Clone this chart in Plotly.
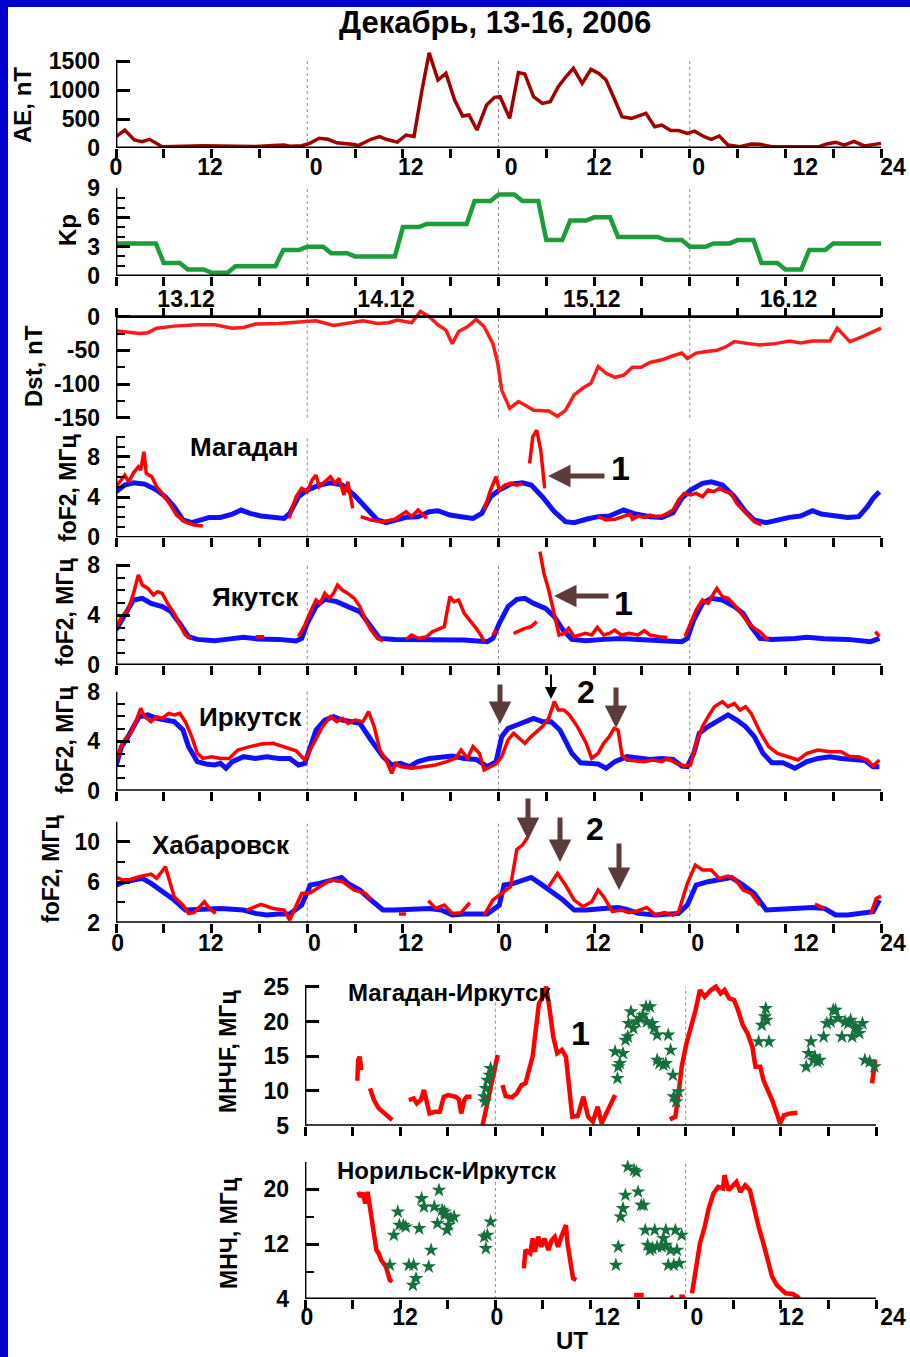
import plotly.graph_objects as go

# ------------------------------------------------------------------ data
# top panels: hours from 13.12 00 UT (0..96); bottom panels: hours (0..72)
ae_h = [0.0,1.1,2.3,3.3,4.2,5.8,10.9,14.6,17.5,19.7,21.1,21.8,23.3,24.3,25.5,26.6,27.7,29.9,30.4,32.0,33.1,33.9,35.3,36.4,37.4,38.4,39.3,40.4,41.4,42.5,43.5,44.3,45.3,46.5,47.5,48.2,49.4,50.5,51.3,52.4,53.5,54.5,55.5,56.4,57.4,58.5,59.6,60.6,61.5,62.6,63.5,64.7,65.5,66.5,67.6,68.5,69.6,70.6,71.7,72.6,73.8,74.7,75.7,76.8,78.3,79.7,80.8,82.3,88.1,89.2,90.3,91.4,92.6,93.9,96.0]
ae_v = [195,310,138,110,150,23,40,30,25,45,50,30,40,80,167,150,90,60,40,150,195,150,100,224,200,1000,1640,1172,1287,828,552,570,310,741,874,885,512,1299,1276,885,770,800,1057,1220,1374,1115,1356,1287,1172,828,540,510,552,598,367,395,300,300,253,290,195,150,207,52,23,70,65,23,20,70,100,50,115,35,80]

# Kp, one value per 3-hour interval
kp_values = [3.33,3.33,1.33,0.67,0.33,1.0,1.0,2.67,3.0,2.33,2.0,2.0,5.0,5.33,5.33,7.67,8.33,7.67,3.67,5.67,6.0,4.0,4.0,3.67,3.0,3.33,3.67,1.33,0.67,2.67,3.33,3.33]

dst_h = [0.0,1.1,2.9,4.0,5.1,7.3,10.2,12.4,14.6,16.0,17.5,20.4,23.3,25.1,27.3,29.1,31.0,32.8,34.2,35.3,37.1,38.2,39.3,40.4,41.4,42.2,43.0,44.1,45.2,46.2,47.3,47.9,48.4,49.4,50.5,51.3,52.4,54.3,55.4,56.4,57.5,58.6,59.6,60.5,61.5,62.6,63.7,64.8,65.9,67.0,68.5,69.9,71.0,71.7,72.8,73.9,75.4,76.5,77.6,79.4,80.8,82.7,84.5,85.9,87.4,89.6,90.5,92.1,93.6,96.0]
dst_v = [-21,-23,-25,-24,-17,-14,-12,-12,-17,-16,-11,-10,-7,-6,-13,-10,-6,-10,-9,-5,-9,8,0,-12,-20,-40,-22,-15,-4,-15,-40,-69,-109,-136,-126,-131,-139,-140,-148,-139,-116,-106,-99,-74,-84,-90,-87,-75,-75,-68,-64,-58,-54,-62,-54,-52,-50,-45,-37,-40,-42,-40,-36,-39,-36,-36,-17,-37,-30,-17]

# Magadan foF2
mag_blue_h = [0.0,1.1,2.2,3.6,5.1,6.2,7.3,8.4,9.5,10.6,11.7,13.1,14.6,15.7,16.8,18.2,19.7,21.1,21.8,22.9,24.0,25.5,26.9,28.4,29.9,31.3,32.8,33.9,35.0,36.4,37.9,39.3,40.4,41.9,43.3,44.8,45.9,47.0,48.1,49.5,51.0,52.1,53.5,55.0,56.4,57.5,59.0,60.5,61.9,63.7,65.2,67.0,68.5,69.9,71.0,72.1,73.6,74.7,76.1,77.6,79.0,80.1,81.6,83.0,84.5,85.9,87.4,88.5,90.3,91.8,93.2,94.3,95.0,95.8]
mag_blue_f = [4.53,5.19,5.42,5.29,4.69,4.03,3.04,1.72,1.45,1.72,1.98,1.98,2.31,2.71,2.38,2.12,2.05,1.88,2.38,4.03,4.69,5.19,5.42,5.19,4.2,3.04,1.72,1.45,1.72,1.98,2.05,2.55,2.64,2.21,2.05,1.88,2.38,4.03,4.69,5.29,5.42,5.19,4.03,2.55,1.55,1.45,1.79,2.05,2.12,2.71,2.31,2.05,1.98,2.45,3.87,4.69,5.36,5.52,5.19,4.03,2.55,1.72,1.45,1.72,1.98,2.12,2.64,2.31,2.12,1.98,2.05,3.04,3.87,4.53]
mag_red_h = [0.0,0.36,1.1,1.6,2.2,2.8,3.1,3.5,3.8,4.5,5.1,5.8,6.7,7.6,8.6,9.8,10.9, None, 21.7,22.6,23.3,24.0,24.6,25.1,25.5,26.2,26.9,27.5,28.0,28.6,29.1,29.7, None, 30.7,32.0,33.5,35.0,36.4,37.1,37.9,39.0, None, 46.2,47.0,47.7,48.1,48.8,49.5,50.3,51.0, None, 51.9,52.3,52.8,53.3,53.8, None, 60.5,61.5,62.6,63.7,64.5,64.8,65.5,66.3,67.0,67.7,68.5,69.2,69.9,70.6,71.3,72.1,72.8,73.6,74.3,75.0,75.7,76.5,77.2,77.9,78.7,79.4,80.1,81.0]
mag_red_f = [5.02,5.36,6.18,5.52,6.41,7.01,6.68,8.5,6.35,6.02,5.02,4.36,3.37,2.21,1.55,1.22,1.12, None, 1.88,4.03,4.86,4.53,5.69,6.18,5.02,5.52,6.02,5.36,5.85,4.2,5.52,2.88, None, 2.05,1.72,1.55,1.79,2.55,2.05,2.71,1.88, None, 2.71,4.69,6.02,4.69,5.19,5.36,5.19,5.36, None, 7.34,9.98,10.64,8.66,4.86, None, 2.05,1.72,1.79,2.05,2.31,1.79,2.12,1.98,2.21,2.05,2.12,2.38,2.71,3.7,4.36,4.2,4.36,4.03,4.69,4.53,4.86,4.53,4.36,3.37,2.71,2.05,1.55,1.22]

# Yakutsk foF2
yak_blue_h = [0.0,0.7,1.5,2.2,3.3,4.4,5.8,6.9,8.0,9.1,10.2,12.4,13.8,16.0,17.8,20.4,22.6,23.3,24.0,25.1,26.2,27.7,29.1,30.6,32.0,33.1,35.0,37.9,40.8,43.7,46.6,47.3,48.1,49.2,50.3,51.3,52.4,53.9,55.0,56.1,57.2,59.0,61.2,63.4,65.5,68.5,71.0,71.7,72.5,73.6,74.7,76.1,77.6,78.7,79.7,80.8,82.3,85.2,86.7,88.9,91.8,94.7,95.8]
yak_blue_f = [2.8,3.6,4.4,5.2,5.33,4.93,4.67,4.27,3.33,2.27,2.05,1.95,2.05,2.21,2.08,2.05,1.92,2.13,3.33,4.67,5.25,5.07,4.67,4.27,3.07,2.13,2.05,2.05,2.05,2.0,1.87,2.13,3.33,4.67,5.25,5.33,4.93,4.53,3.87,2.8,2.05,1.95,2.05,2.13,2.05,2.0,1.87,2.13,3.6,4.93,5.33,5.2,4.67,4.13,3.07,2.13,2.05,2.13,2.21,2.11,2.05,1.87,2.13]
yak_red_h = [0.0,0.7,1.5,2.2,2.8,3.3,4.0,4.7,5.2,5.8,6.6,7.3,8.0,8.7,9.5, None, 17.5,18.6, None, 22.9,23.7,24.4,25.1,25.6,26.2,26.8,27.3,27.8,28.4,29.1,29.9,30.6,31.3,32.0,32.8,33.5, None, 36.4,37.1,37.9,39.0,39.7,40.4,41.2,41.5,41.9,42.4,43.0,43.7,44.4,45.2,45.9,46.2, None, 47.3,47.7, None, 49.9,50.6,51.3,52.1,52.8, None, 53.2,53.7,54.3,55.0,55.6,56.2,56.8,57.5,58.2,58.9,59.7,60.4,61.2,61.9,62.6,63.4,64.4,65.5,66.3,67.0,68.1,69.2, None, 71.4,72.1,72.8,73.6,74.3,74.9,75.4,76.1,76.8,77.6,78.3,79.4,80.1,80.8,81.6,81.9, None, 95.3,95.8]
yak_red_f = [2.93,3.87,4.4,5.73,7.2,6.4,6.13,5.6,5.87,5.73,4.8,4.13,3.2,2.4,2.08, None, 2.27,2.27, None, 2.27,3.2,4.27,5.2,4.93,5.73,5.33,5.73,6.4,6.0,5.73,5.33,4.67,3.6,2.8,2.13,1.92, None, 2.05,2.4,2.13,2.27,2.67,2.85,3.07,4.13,5.47,5.07,5.2,4.13,3.6,2.93,2.27,1.87, None, 2.4,2.8, None, 2.53,2.75,2.93,3.07,3.47, None, 9.07,7.33,6.0,4.13,2.4,2.53,2.93,2.27,2.4,2.53,2.4,3.01,2.4,2.53,2.8,2.4,2.53,2.4,2.75,2.4,2.27,2.21, None, 2.27,3.33,4.4,5.2,4.93,5.6,6.13,5.47,5.33,4.8,4.27,3.33,2.93,2.67,2.13,2.0, None, 2.67,2.27]

# Irkutsk foF2
irk_blue_h = [0.0,0.7,1.5,2.2,2.9,4.0,5.1,6.2,7.3,8.4,9.1,10.2,11.3,12.4,13.1,13.8,14.6,16.0,17.5,18.9,20.4,21.8,22.9,23.7,24.4,25.1,26.2,27.3,28.4,29.5,30.6,32.0,33.5,34.6,35.7,36.8,37.9,39.3,40.8,42.2,43.7,45.2,46.6,47.7,48.4,49.2,50.3,51.3,52.4,53.5,54.6,55.7,57.2,58.3,59.4,60.5,61.5,62.6,64.1,65.5,67.0,68.5,69.9,71.0,71.7,72.5,73.2,74.3,75.7,76.8,77.9,79.0,80.1,81.2,82.3,83.7,85.2,86.7,88.1,89.6,91.0,92.5,94.0,95.0,95.8]
irk_blue_f = [1.99,3.56,4.37,5.18,5.98,6.12,5.85,5.71,5.58,4.91,3.56,2.35,2.16,2.08,2.21,1.81,2.35,2.75,2.61,2.75,2.61,2.61,2.08,2.21,3.56,4.91,5.71,5.98,5.71,5.58,5.44,4.1,2.75,2.08,2.21,1.94,2.35,2.61,2.75,2.8,2.61,2.53,1.94,2.35,4.37,5.04,5.31,5.58,5.85,5.58,5.58,4.91,3.02,2.26,2.16,2.16,1.81,2.35,2.75,2.61,2.53,2.61,2.53,1.99,1.94,3.02,4.64,5.18,5.71,6.12,5.71,5.18,4.37,3.02,2.26,2.26,1.81,2.35,2.61,2.75,2.61,2.48,2.43,1.94,1.94]
irk_red_h = [0.0,0.9,1.8,2.5,3.1,3.6,4.4,5.1,5.8,6.6,7.3,8.0,8.7,9.5,10.2,10.9,12.0,13.1,14.2,15.3,16.8,18.2,19.7,21.1,22.6,23.7,24.8,25.9,26.9,27.7,28.4,29.1,30.0,31.0,31.7,32.4,33.1,33.9,34.6,35.1,35.7,37.1,38.6,40.1,41.5,42.6,43.3,44.1,44.8,45.6,46.2,47.0,47.7,48.4,49.2,49.9,50.6,51.3,52.1,52.8,53.5,54.3,55.0,55.5,56.2,56.9,57.9,59.0,59.7,60.5,61.2,61.9,62.5,63.0,63.5,64.1,65.2,66.3,67.4,68.5,69.2,70.3,71.4,72.1,72.8,73.6,74.3,75.1,76.1,76.8,77.6,78.3,79.0,79.7,80.8,81.9,83.0,84.5,85.6,86.7,88.1,89.6,91.0,92.1,93.2,94.3,95.0,95.8]
irk_red_f = [2.48,3.96,4.64,5.58,6.66,5.98,5.58,5.98,5.85,6.25,6.12,6.25,5.58,4.37,3.02,2.61,2.75,2.61,2.61,3.29,3.56,3.77,3.83,3.56,3.23,2.48,3.83,5.18,5.98,5.58,5.85,5.44,5.71,5.58,6.39,5.18,3.29,2.48,1.4,2.21,1.94,1.81,1.94,2.08,2.35,2.61,3.29,2.61,3.56,3.02,1.67,1.94,2.16,2.75,4.1,4.64,4.23,3.83,4.37,4.77,5.18,5.85,7.2,6.52,6.52,6.12,5.18,3.83,2.61,3.02,3.83,4.37,5.04,4.91,2.88,2.48,2.43,2.35,2.48,2.35,2.61,2.21,1.99,2.08,3.83,5.18,5.98,6.79,7.2,6.79,7.06,6.52,6.79,6.25,4.77,3.56,3.02,2.75,2.48,3.02,3.29,3.15,3.15,2.75,2.75,2.48,1.99,2.48]

# Khabarovsk foF2
khab_blue_h = [0.0,1.1,2.2,3.3,4.4,5.8,7.3,8.7,10.2,11.7,13.1,14.6,16.0,17.5,18.9,20.4,21.8,23.3,24.4,25.5,26.9,28.3,29.1,30.6,32.0,33.5,35.0,36.4,37.9,39.3,40.8,42.2,43.7,45.2,46.6,48.1,48.7,49.9,51.0,52.1,53.2,54.6,56.1,57.5,59.0,61.2,63.0,64.1,65.5,67.7,69.2,70.6,71.7,72.8,74.3,75.7,77.2,78.7,80.1,81.6,83.0,84.5,87.4,88.9,90.3,91.8,94.0,95.0,95.8]
khab_blue_f = [5.72,6.05,6.21,6.38,5.88,5.06,4.24,3.25,3.32,3.35,3.41,3.32,3.25,2.92,2.76,2.86,2.86,3.74,5.72,5.88,6.21,6.47,5.88,5.22,4.24,3.25,3.25,3.32,3.41,3.41,3.25,2.76,2.86,2.86,2.86,3.74,5.72,5.88,6.21,6.47,5.88,5.06,4.24,3.25,3.25,3.41,3.51,3.32,2.92,2.76,2.86,2.92,3.74,5.72,6.05,6.28,6.47,5.72,4.89,3.25,3.32,3.35,3.51,3.41,2.76,2.76,2.92,3.09,4.24]
khab_red_h = [0.0,0.9,1.8,2.9,4.4,5.1,6.2,7.3,8.4,9.1,9.8,11.1,11.7,12.5, None, 16.4,18.2,19.7,21.1,21.8,22.6,23.3,24.4,25.5,26.9,28.4,29.9,31.3,32.0, None, 35.5,36.4, None, 39.2,40.1,41.2,42.2,43.3,44.4, None, 46.2,47.3,48.4,49.5,50.3,51.0,51.7, None, 54.3,55.4,56.4,57.5,58.6,59.7,60.5,61.2,62.3,63.4,64.4,65.5,66.6,67.7,68.8,69.9,70.6,71.7,72.7,73.6,74.7,75.7,76.8,77.6,78.7,79.7,80.8, None, 87.7,88.9, None, 94.7,95.4,96.0]
khab_red_f = [6.47,6.21,6.28,6.54,6.8,6.38,7.53,4.57,3.74,2.92,2.99,4.07,3.41,2.92, None, 3.25,3.81,3.41,3.25,2.26,3.58,4.89,4.96,5.55,6.21,6.05,5.22,4.89,4.24, None, 2.86,2.86, None, 4.17,3.41,3.74,2.92,2.99,3.97, None, 2.76,4.24,4.89,5.55,9.24,9.66,10.49, None, 5.55,6.87,5.72,4.24,3.58,4.07,5.22,4.57,3.09,3.25,2.99,3.18,3.51,2.76,2.99,2.76,3.09,5.88,7.69,7.2,7.2,6.38,6.61,6.38,5.22,4.89,3.74, None, 3.84,3.41, None, 2.86,4.4,4.63]

# MUF Magadan-Irkutsk (observed = red line, forecast = stars)
muf1_red_h = [6.6,6.7,6.9,7.1, None, 8.2,8.7,9.3,9.9,10.4,11.0, None, 13.1,13.7,14.1,14.6,15.0,15.4,15.7,16.4,17.0,17.5,18.1,19.0,19.4,19.7,20.1,20.4,21.0, None, 22.4,22.8,23.3,23.8,24.3, None, 24.9,25.3,26.1,26.7,27.3,27.8,28.7,29.1,29.5,30.0,30.4,30.8,31.3,31.8,32.4,32.9,33.3,33.7,34.4,35.1,35.7,36.3,36.9,37.4,38.0,38.7,39.1, None, 46.0,46.7,47.1,47.5,48.1,48.7,49.2,49.8,50.4,51.2,51.8,52.4,52.9,53.5,54.1,54.6,55.2,55.8,56.4,56.8,57.4,57.8,58.4,58.9,59.5,59.9,60.4,61.2,62.1, None, 71.5,71.8,71.9]
muf1_red_v = [11.47,14.45,14.93,13.01, None, 10.37,8.69,7.49,6.87,6.29,5.82, None, 8.69,8.93,8.21,8.69,10.13,8.45,6.77,7.01,7.01,9.17,9.41,9.17,8.79,6.77,8.69,9.17,9.17, None, 5.1,7.25,10.13,13.01,15.17, None, 10.85,9.27,9.08,9.65,10.85,11.09,14.93,19.24,22.6,23.56,25.0,22.12,17.81,15.41,15.89,14.93,10.61,6.29,6.39,9.17,6.29,5.58,7.73,5.34,6.77,8.69,9.41, None, 5.91,6.29,9.65,13.49,16.85,19.24,21.4,24.52,23.56,24.52,25.0,24.04,24.52,23.32,23.08,21.64,19.48,18.29,16.37,13.49,13.49,11.57,10.13,8.69,6.77,5.34,6.53,6.77,6.87, None, 11.09,13.01,14.45]
muf1_star_h = [22.6,22.7,22.8,23.0,23.3,23.4, 39.1,39.4,39.5,39.7,40.1,40.4,40.7,40.8,41.1,41.4,41.8,42.2,42.6,43.0,43.5,43.1,43.8,44.0,44.4,44.4,44.7,45.2,45.5,45.8,46.1,46.4,46.5,46.8,47.1, 41.1, 57.2,57.6,58.0,58.1,58.2,58.5, 63.2,63.5,63.8,64.1,64.3,64.6,64.9,65.4,65.8,66.3,66.6,66.9,67.2,67.7,68.1,68.5,68.8,69.0,69.4,69.6,69.9,70.3,70.6,71.2,71.8]
muf1_star_v = [9.17,8.45,10.37,11.57,12.29,13.25, 15.65,11.81,13.49,13.97,15.41,17.33,17.81,19.72,21.4,19.0,19.96,20.44,20.92,22.12,22.12,19.96,19.72,19.0,18.05,14.45,13.97,13.73,13.97,18.05,15.89,12.29,9.17,8.45,9.89, 2.84, 17.09,19.48,20.68,21.88,20.2,17.09, 13.49,15.41,17.09,14.45,14.93,14.21,14.45,17.81,19.72,19.96,21.64,21.64,20.44,17.81,19.96,19.72,20.2,17.81,19.24,18.77,18.29,19.72,14.45,14.21,13.49]

# MUF Norilsk-Irkutsk
nor_red_h = [6.7,7.0,7.3,7.6,7.9,8.2,8.4,8.7,9.0,9.3,9.6,10.2,10.7,11.0, None, 27.6,27.8,28.4,28.7,29.0,29.4,29.8,30.2,30.7,31.1,31.5,31.9,32.4,32.9,33.1,33.4,33.8,34.2, None, 41.5,42.7, None, 46.1,46.5, None, 47.2,47.9, None, 48.8,49.2,49.8,50.4,50.9,51.5,52.1,52.7,52.9,53.4,53.8,54.4,54.9,55.5,56.1,56.6,57.2,57.8,58.4,58.9,59.5,60.1,60.6,61.5,62.1,62.6]
nor_red_v = [19.63,18.9,19.49,17.93,19.63,17.45,15.5,13.56,11.14,10.65,9.68,8.71,6.77,6.52, None, 8.47,11.14,10.65,12.83,10.89,13.08,11.62,12.83,11.14,12.59,13.08,11.62,13.32,14.78,12.11,9.68,7.01,6.77, None, 4.58,4.58, None, 4.1,4.34, None, 4.34,4.34, None, 4.83,8.22,12.11,14.53,17.2,19.39,20.36,20.12,22.06,19.87,20.36,21.09,19.63,20.6,19.87,17.2,14.53,12.11,9.68,7.25,6.04,5.31,4.83,4.73,4.34,3.61]
nor_star_h = [10.7,11.2,11.7,11.9,12.4,12.7,13.1,13.6,14.0,13.7,14.4,14.7,15.0,15.6,15.9,16.3,16.9,16.7,17.3,17.6,17.9,18.1,18.4,18.8,17.6, 22.6,22.8,23.0,23.4, 39.2,39.5,39.8,40.1,40.4,40.7,41.5,41.8,42.0,42.4,42.7,42.9,43.2,43.5,44.1,44.4,45.0,45.2,45.5,45.8,46.1,46.5,46.7,46.9,47.2,47.5,43.8,45.5]
nor_star_v = [8.95,13.32,16.72,14.78,14.78,14.53,8.95,6.04,7.01,8.95,14.29,18.66,17.45,8.71,11.14,17.45,19.87,15.02,16.96,16.23,14.05,14.78,15.75,15.99,16.72, 13.08,11.38,13.32,15.26, 8.95,11.62,15.99,17.2,19.15,23.27,22.79,22.54,19.63,17.69,17.69,14.05,11.86,11.14,14.05,11.62,11.62,12.83,14.05,8.95,11.14,8.95,14.05,11.14,9.19,13.32,11.38,11.86]

# tick labels
top_hour_labels = ["0", "12", "0", "12", "0", "12", "0", "12", "24"]
kp_date_labels = ["13.12", "14.12", "15.12", "16.12"]
bottom_hour_labels = ["0", "12", "0", "12", "0", "12", "24"]
ae_ticks = [0, 500, 1000, 1500]
kp_ticks = [0, 3, 6, 9]
dst_ticks = [0, -50, -100, -150]
fof2_ticks = [0, 4, 8]
khab_ticks = [2, 6, 10]
muf_ticks = [5, 10, 15, 20, 25]
nor_ticks = [4, 12, 20]

pairs = [(ae_h, ae_v), (dst_h, dst_v), (mag_blue_h, mag_blue_f), (mag_red_h, mag_red_f),
         (yak_blue_h, yak_blue_f), (yak_red_h, yak_red_f), (irk_blue_h, irk_blue_f),
         (irk_red_h, irk_red_f), (khab_blue_h, khab_blue_f), (khab_red_h, khab_red_f),
         (muf1_red_h, muf1_red_v), (muf1_star_h, muf1_star_v), (nor_red_h, nor_red_v),
         (nor_star_h, nor_star_v)]
for a, b in pairs:
    assert len(a) == len(b), (len(a), len(b))

# ------------------------------------------------------------------ layout helpers
W, H = 910, 1357
FONT = "Liberation Sans, Arial, Helvetica, sans-serif"
TOP_PXH = 765 / 96.0
BOT_PXH = 571 / 72.0
RED, BLUE = "#ff0000", "#1010ff"
BROWN = "#5e3b3b"


def fx(x):
    return x / W


def fy(y):
    return 1 - y / H


def xdom(x0, pxh, xr):
    return [fx(x0), fx(x0 + (xr[1] - xr[0]) * pxh)]


def ydom(px_ref, v_ref, pxu, yr):
    top = px_ref - (yr[1] - v_ref) * pxu
    bot = px_ref - (yr[0] - v_ref) * pxu
    return [fy(bot), fy(top)]


def aid(i):
    return "" if i == 1 else str(i)


TOP_LABEL_POS = [0.0, 11.8, 25.1, 37.0, 49.6, 60.6, 73.1, 86.5, 97.5]
KHAB_LABEL_POS = [0.2, 11.9, 24.9, 37.0, 48.9, 60.5, 73.0, 86.6, 97.5]
KP_LABEL_POS = [8.8, 33.9, 59.7, 84.4]
BOT_LABEL_POS = [0.25, 12.6, 24.2, 38.1, 49.4, 61.3, 74.15]

panels = [
    dict(x0=116, pxh=TOP_PXH, xr=[0, 98], yref=(148, 0, 87 / 1500), yr=[0, 1750], xat=0,
         yline=(0, 1500), yt=ae_ticks, ym=[], xl=top_hour_labels, xp=TOP_LABEL_POS, nd=4, so=-2),
    dict(x0=116, pxh=TOP_PXH, xr=[0, 98], yref=(276, 0, 88 / 9), yr=[0, 9], xat=0,
         yline=(0, 9), yt=kp_ticks, ym=[1, 2, 4, 5, 7, 8], xl=kp_date_labels, xp=KP_LABEL_POS, nd=4, so=2),
    dict(x0=116, pxh=TOP_PXH, xr=[0, 98], yref=(316.7, 0, 101 / 150), yr=[-152, 14], xat=0,
         yline=(-150, 0), yt=dst_ticks, ym=[-25, -75, -125], xl=None, xp=None, nd=4, top=True),
    dict(x0=116, pxh=TOP_PXH, xr=[0, 98], yref=(537.3, 0, 10.06), yr=[0, 10.85], xat=0,
         yline=(0, 10), yt=fof2_ticks, ym=[1, 2, 3, 5, 6, 7, 9, 10], xl=None, xp=None, nd=4),
    dict(x0=116, pxh=TOP_PXH, xr=[0, 98], yref=(665, 0, 12.5), yr=[0, 9.3], xat=0,
         yline=(0, 8), yt=fof2_ticks, ym=[1, 2, 3, 5, 6, 7], xl=None, xp=None, nd=4),
    dict(x0=116, pxh=TOP_PXH, xr=[0, 98], yref=(790.7, 0, 12.375), yr=[0, 8.05], xat=0,
         yline=(0, 8), yt=fof2_ticks, ym=[1, 2, 3, 5, 6, 7], xl=None, xp=None, nd=4),
    dict(x0=116, pxh=TOP_PXH, xr=[0, 98], yref=(922.7, 2, 10.125), yr=[2, 12], xat=2,
         yline=(2, 12), yt=khab_ticks, ym=[4, 8, 12], xl=top_hour_labels, xp=KHAB_LABEL_POS, nd=4, so=0),
    dict(x0=305, pxh=BOT_PXH, xr=[0, 75.5], yref=(1125.7, 5, 6.95), yr=[5, 25.6], xat=5,
         yline=(5, 25), yt=muf_ticks, ym=[], xl=None, xp=None, nd=3),
    dict(x0=305, pxh=BOT_PXH, xr=[0, 75.5], yref=(1299, 4, 6.856), yr=[4, 24.1], xat=4,
         yline=(4, 24), yt=nor_ticks, ym=[8, 16, 24], xl=bottom_hour_labels, xp=BOT_LABEL_POS, nd=3, so=-3),
]

layout = dict(
    width=W, height=H,
    margin=dict(l=0, r=0, t=0, b=0, pad=0, autoexpand=False),
    paper_bgcolor="white", plot_bgcolor="rgba(0,0,0,0)", showlegend=False,
    font=dict(family=FONT, size=22, color="black", weight="bold"),
)
shapes = []
annotations = []

for i, p in enumerate(panels, start=1):
    s = aid(i)
    ticks6 = list(range(0, p["nd"] * 24 + 1, 6))
    xcfg = dict(domain=xdom(p["x0"], p["pxh"], p["xr"]), range=p["xr"], anchor="y" + s,
                showline=False, showgrid=False, zeroline=False, fixedrange=True,
                automargin=False)
    if p["xl"]:
        xcfg.update(tickmode="array", tickvals=p["xp"], ticktext=p["xl"], ticks="outside",
                    ticklen=0, tickcolor="rgba(0,0,0,0)", showticklabels=True,
                    tickfont=dict(size=23), ticklabelstandoff=p.get("so", 0),
                    minor=dict(tickmode="array", tickvals=ticks6, ticks="outside", ticklen=9,
                               tickwidth=2.5, tickcolor="black", showgrid=False))
    else:
        xcfg.update(tickmode="array", tickvals=ticks6, ticks="outside", ticklen=9,
                    tickwidth=2.5, tickcolor="black", showticklabels=False)
    if p.get("top"):
        xcfg.update(anchor="free", side="top", position=fy(p["yref"][0]))
    ycfg = dict(domain=ydom(*p["yref"], p["yr"]), range=p["yr"], anchor="x" + s,
                showline=False, showgrid=False, zeroline=False, fixedrange=True,
                automargin=False,
                tickmode="array", tickvals=p["yt"], ticktext=[str(t) for t in p["yt"]],
                ticks="inside", ticklen=14, tickwidth=2.5, tickcolor="black",
                ticklabelstandoff=15, tickfont=dict(size=23))
    if p["ym"]:
        ycfg["minor"] = dict(tickmode="array", tickvals=p["ym"], ticks="inside", ticklen=9,
                             tickwidth=2, tickcolor="black", showgrid=False)
    layout["xaxis" + s] = xcfg
    layout["yaxis" + s] = ycfg

    xr_, yr_ = "x" + s, "y" + s
    xend = p["nd"] * 24
    for d in range(1, p["nd"]):
        shapes.append(dict(type="line", xref=xr_, yref=yr_, x0=24 * d, x1=24 * d,
                           y0=p["yline"][0], y1=p["yline"][1],
                           line=dict(color="#8a8a8a", width=1, dash="dot"), layer="below"))
    shapes.append(dict(type="line", xref=xr_, yref=yr_, x0=0, x1=xend, y0=p["xat"], y1=p["xat"],
                       line=dict(color="black", width=2.8), layer="above"))
    shapes.append(dict(type="line", xref=xr_, yref=yr_, x0=0, x1=0, y0=p["yline"][0],
                       y1=p["yline"][1], line=dict(color="black", width=2.8), layer="above"))

# blue frame (top + left)
shapes.append(dict(type="rect", xref="paper", yref="paper", x0=0, x1=1, y0=fy(7), y1=1,
                   fillcolor="#0000cc", line=dict(width=0)))
shapes.append(dict(type="rect", xref="paper", yref="paper", x0=0, x1=fx(8), y0=0, y1=1,
                   fillcolor="#0000cc", line=dict(width=0)))

fig = go.Figure()


def add_line(i, x, y, color, width):
    s = aid(i)
    fig.add_trace(go.Scatter(x=x, y=y, xaxis="x" + s, yaxis="y" + s, mode="lines",
                             line=dict(color=color, width=width), connectgaps=False,
                             hoverinfo="skip"))


def add_stars(i, x, y):
    s = aid(i)
    fig.add_trace(go.Scatter(x=x, y=y, xaxis="x" + s, yaxis="y" + s, mode="markers",
                             marker=dict(symbol="star", size=11, color="#14703c",
                                         line=dict(width=0)),
                             cliponaxis=False, hoverinfo="skip"))


add_line(1, ae_h, ae_v, "#a00000", 3.5)
kp_x, kp_y = [], []
for k, v in enumerate(kp_values):
    kp_x += [3 * k, 3 * k + 2]
    kp_y += [v, v]
kp_x.append(96)
kp_y.append(kp_values[-1])
add_line(2, kp_x, kp_y, "#1c9c3a", 4.5)
add_line(3, dst_h, dst_v, "#ff1a1a", 3.5)
add_line(4, mag_blue_h, mag_blue_f, BLUE, 5)
add_line(4, mag_red_h, mag_red_f, RED, 3.5)
add_line(5, yak_blue_h, yak_blue_f, BLUE, 5)
add_line(5, yak_red_h, yak_red_f, RED, 3.5)
add_line(6, irk_blue_h, irk_blue_f, BLUE, 5)
add_line(6, irk_red_h, irk_red_f, RED, 3.5)
add_line(7, khab_blue_h, khab_blue_f, BLUE, 5)
add_line(7, khab_red_h, khab_red_f, RED, 3.5)
add_line(8, muf1_red_h, muf1_red_v, RED, 4.5)
add_stars(8, muf1_star_h, muf1_star_v)
add_line(9, nor_red_h, nor_red_v, RED, 4.5)
add_stars(9, nor_star_h, nor_star_v)


def text(x, y, t, size, angle=0):
    annotations.append(dict(x=fx(x), y=fy(y), xref="paper", yref="paper", text=t,
                            showarrow=False, font=dict(size=size), xanchor="center",
                            yanchor="middle", textangle=angle))


def arrow(hx, hy, tx, ty, color=BROWN, width=5, size=0.9):
    annotations.append(dict(x=fx(hx), y=fy(hy), xref="paper", yref="paper", text="",
                            showarrow=True, ax=tx - hx, ay=ty - hy, arrowhead=2,
                            arrowsize=size, arrowwidth=width, arrowcolor=color, standoff=0))


text(495, 22, "Декабрь, 13-16, 2006", 31)
text(23, 105, "AE, nT", 24, -90)
text(67, 230, "Kp", 24, -90)
text(33, 366, "Dst, nT", 24, -90)
text(68, 488, "foF2, МГц", 23, -90)
text(65, 612, "foF2, МГц", 23, -90)
text(65, 740, "foF2, МГц", 23, -90)
text(51, 869, "foF2, МГц", 23, -90)
text(228, 1052, "МНЧF, МГц", 23, -90)
text(229, 1234, "МНЧ, МГц", 23, -90)
text(572, 1340, "UT", 24)
text(244, 447, "Магадан", 26)
text(255, 597, "Якутск", 26)
text(250, 717, "Иркутск", 26)
text(221, 845, "Хабаровск", 26)
text(449, 993, "Магадан-Иркутск", 24)
text(447, 1170, "Норильск-Иркутск", 24)
text(620, 468, "1", 34)
text(623, 603, "1", 34)
text(586, 692, "2", 32)
text(595, 829, "2", 32)
text(580, 1033, "1", 34)

arrow(548, 476, 606, 476)
arrow(554, 596, 610, 596)
arrow(500, 724, 500, 683)
arrow(551, 699, 551, 673, color="black", width=2, size=1.2)
arrow(616, 728, 616, 686)
arrow(528, 840, 528, 797)
arrow(560, 862, 560, 816)
arrow(619, 890, 619, 842)

layout["shapes"] = shapes
layout["annotations"] = annotations
fig.update_layout(**layout)
fig.write_html("out.html")
